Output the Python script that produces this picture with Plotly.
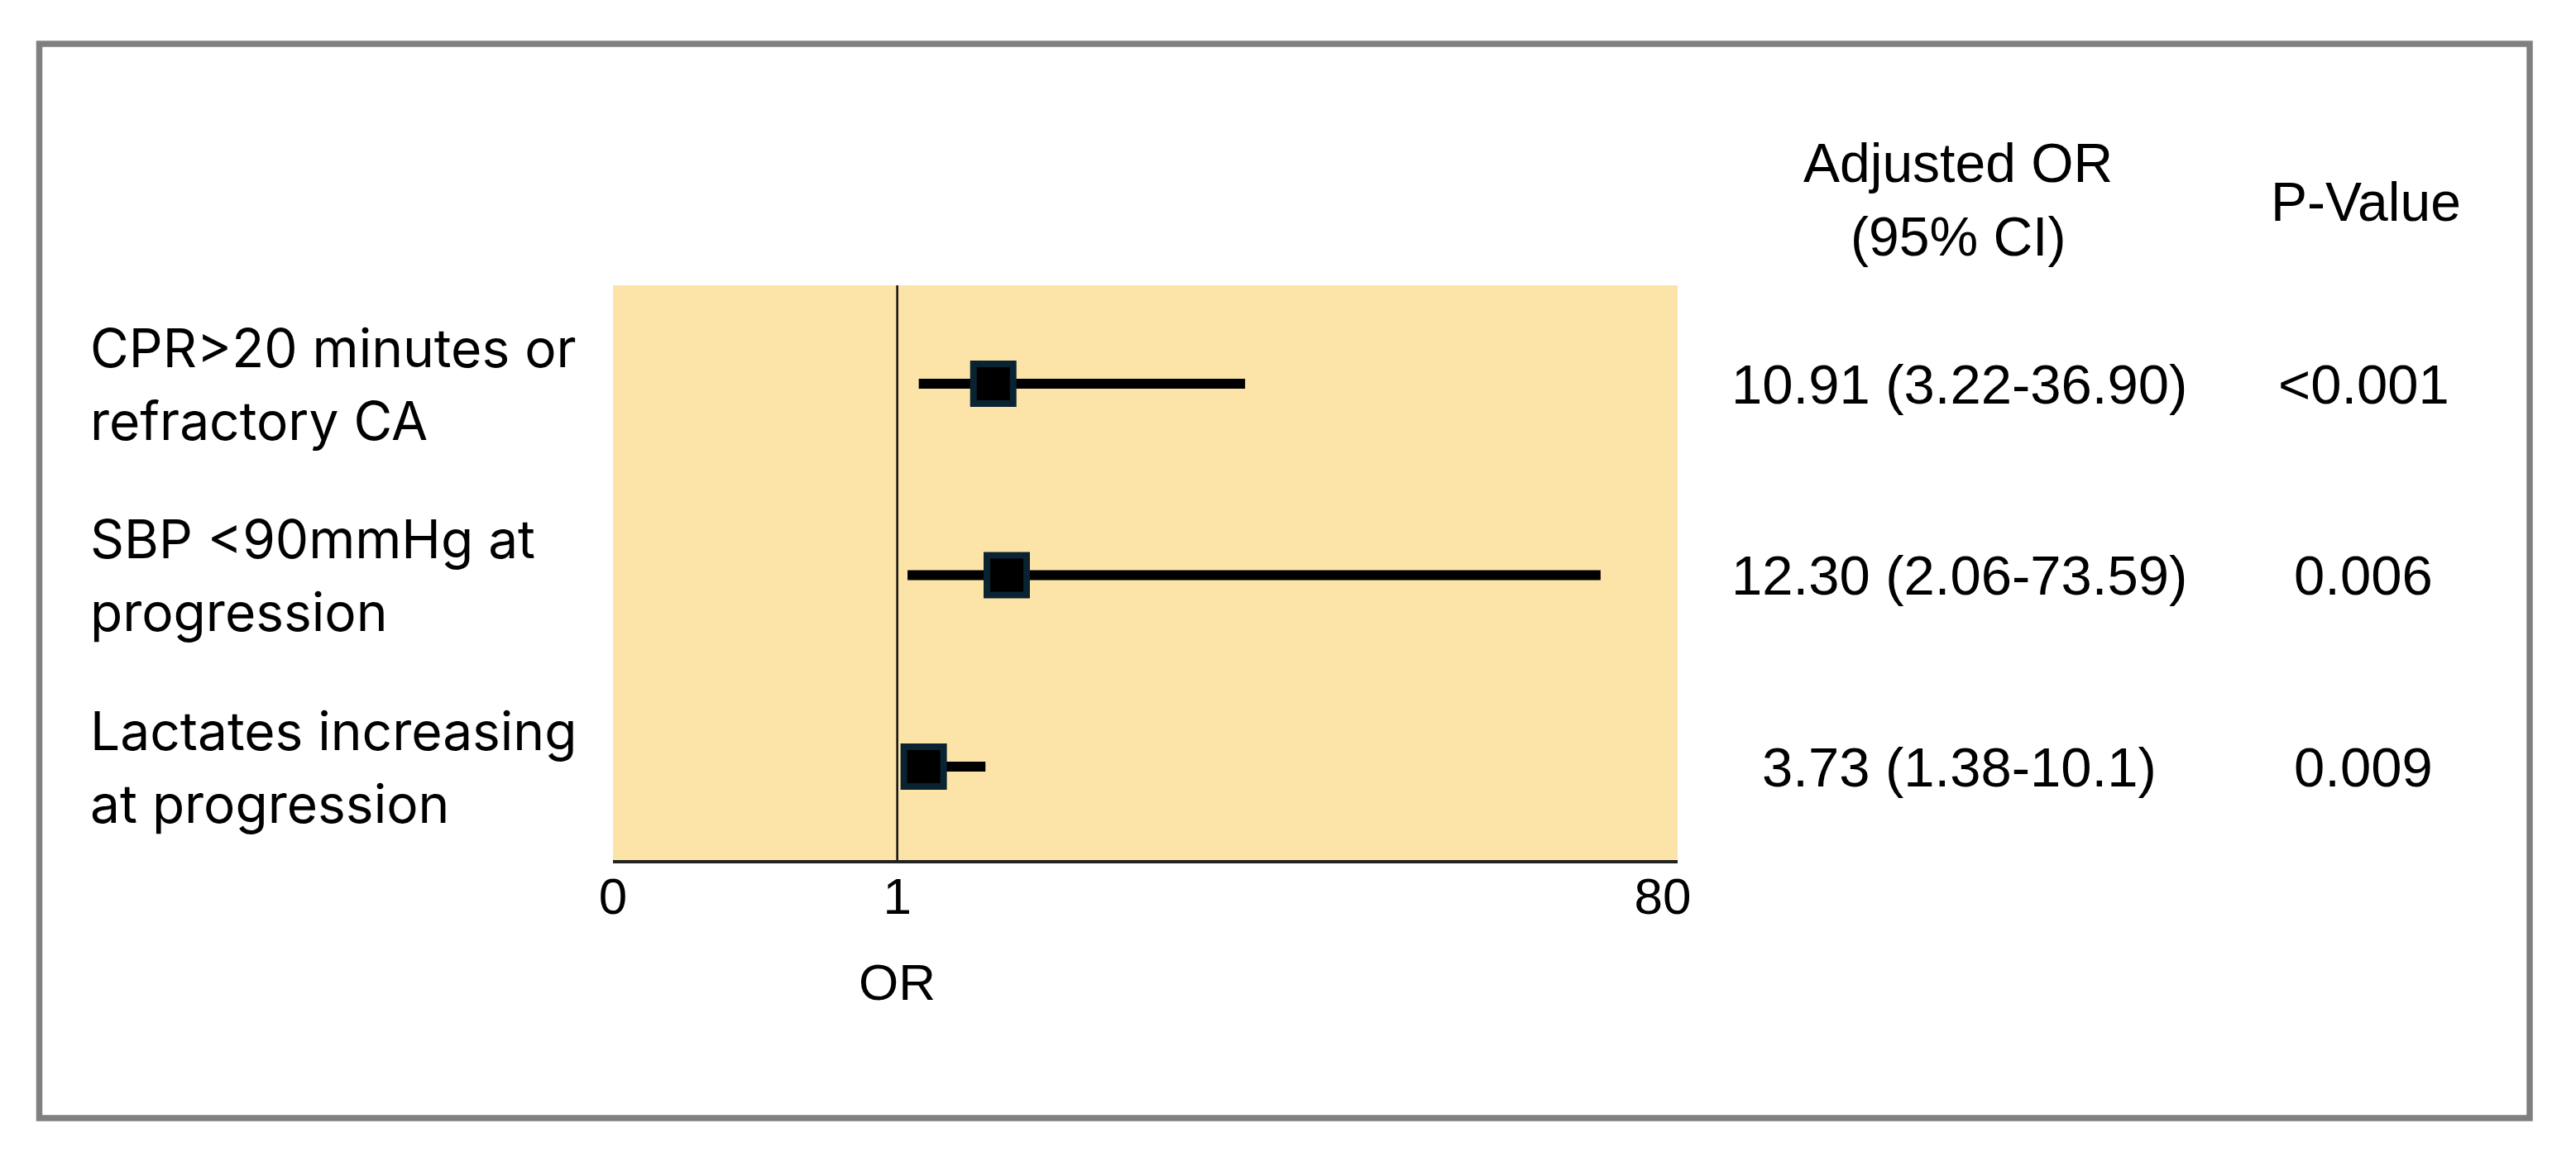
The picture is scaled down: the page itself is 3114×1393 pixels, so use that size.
import plotly.graph_objects as go

# ---------------- data ----------------
factor_lines = [
    ["CPR>20 minutes or", "refractory CA"],
    ["SBP <90mmHg at", "progression"],
    ["Lactates increasing", "at progression"],
]
odds_ratio = [10.91, 12.30, 3.73]
ci_low = [3.22, 2.06, 1.38]
ci_high = [36.90, 73.59, 10.1]
or_ci_text = ["10.91 (3.22-36.90)", "12.30 (2.06-73.59)", "3.73 (1.38-10.1)"]
p_value_text = ["<0.001", "0.006", "0.009"]
row_pos = [3, 2, 1]
tick_text = ["0", "1", "80"]
header_or = ["Adjusted OR", "(95% CI)"]
header_p = "P-Value"

# ---------------- layout geometry ----------------
W, H = 3114, 1393
PL, PR, PT, PB = 741, 2028, 345, 1040   # plot area in pixels
X_MIN, X_MAX = -28.34, 81.54
Y_MIN, Y_MAX = 0.512, 3.514

def px(xp):
    return (xp - PL) / (PR - PL)

def py(yp):
    return (PB - yp) / (PB - PT)

ARIAL = "Liberation Sans, Arial, sans-serif"
ROW_FONT = dict(family=ARIAL, size=67, color="black")
HEAD_FONT = dict(family=ARIAL, size=66, color="black")
LABEL_FONT = dict(family="Inter, Noto Sans, sans-serif", size=64, color="black")

fig = go.Figure()

fig.add_trace(go.Scatter(
    x=odds_ratio,
    y=row_pos,
    mode="markers",
    marker=dict(symbol="square", size=48, color="black",
                line=dict(color="#0A2332", width=8)),
    error_x=dict(type="data", symmetric=False,
                 array=[h - o for h, o in zip(ci_high, odds_ratio)],
                 arrayminus=[o - l for o, l in zip(odds_ratio, ci_low)],
                 color="black", thickness=12, width=0),
    showlegend=False,
    hoverinfo="skip",
))

# reference line at OR = 1
fig.add_shape(type="line", xref="x", yref="paper", x0=1, x1=1, y0=0, y1=1,
              line=dict(color="#111111", width=2.5), layer="below")

# outer grey frame
fig.add_shape(type="rect", xref="paper", yref="paper",
              x0=px(47.5), x1=px(3058), y0=py(53), y1=py(1352),
              line=dict(color="#808080", width=7.5), fillcolor="rgba(0,0,0,0)",
              layer="above")

annotations = []
# left factor labels (two lines each)
for lines, r in zip(factor_lines, row_pos):
    for i, t in enumerate(lines):
        annotations.append(dict(
            text=t, xref="paper", yref="y", x=px(107), y=r,
            xanchor="left", yanchor="middle", showarrow=False,
            yshift=44 if i == 0 else -44, font=LABEL_FONT))

# table rows
for t_or, t_p, r in zip(or_ci_text, p_value_text, row_pos):
    annotations.append(dict(text=t_or, xref="paper", yref="y", x=px(2368), y=r,
                            xanchor="center", yanchor="middle", showarrow=False,
                            font=ROW_FONT))
    annotations.append(dict(text=t_p, xref="paper", yref="y", x=px(2857), y=r,
                            xanchor="center", yanchor="middle", showarrow=False,
                            font=ROW_FONT))

# table headers
annotations.append(dict(text=header_or[0], xref="paper", yref="paper", x=px(2367), y=py(197),
                        xanchor="center", yanchor="middle", showarrow=False, font=HEAD_FONT))
annotations.append(dict(text=header_or[1], xref="paper", yref="paper", x=px(2367), y=py(286),
                        xanchor="center", yanchor="middle", showarrow=False, font=HEAD_FONT))
annotations.append(dict(text=header_p, xref="paper", yref="paper", x=px(2860), y=py(244),
                        xanchor="center", yanchor="middle", showarrow=False, font=HEAD_FONT))

# axis title "OR"
annotations.append(dict(text="OR", xref="x", yref="paper", x=1, y=py(1187),
                        xanchor="center", yanchor="middle", showarrow=False,
                        font=dict(family=ARIAL, size=62, color="black")))

fig.update_layout(
    width=W, height=H, autosize=False,
    margin=dict(l=PL, r=W - PR, t=PT, b=H - PB, pad=0),
    paper_bgcolor="white",
    plot_bgcolor="#FCE4A8",
    annotations=annotations,
    xaxis=dict(range=[X_MIN, X_MAX], tickvals=[X_MIN, 1, 80], ticktext=tick_text,
               showgrid=False, zeroline=False, showline=True, linecolor="#222222",
               linewidth=4, ticks="", ticklabelstandoff=-13,
               tickfont=dict(family=ARIAL, size=62, color="black"),
               fixedrange=True),
    yaxis=dict(range=[Y_MIN, Y_MAX], showgrid=False, zeroline=False, showline=False,
               showticklabels=False, ticks="", fixedrange=True),
)

fig.write_html("out.html", post_script="document.body.style.margin='0';",
               config={"displayModeBar": False})
